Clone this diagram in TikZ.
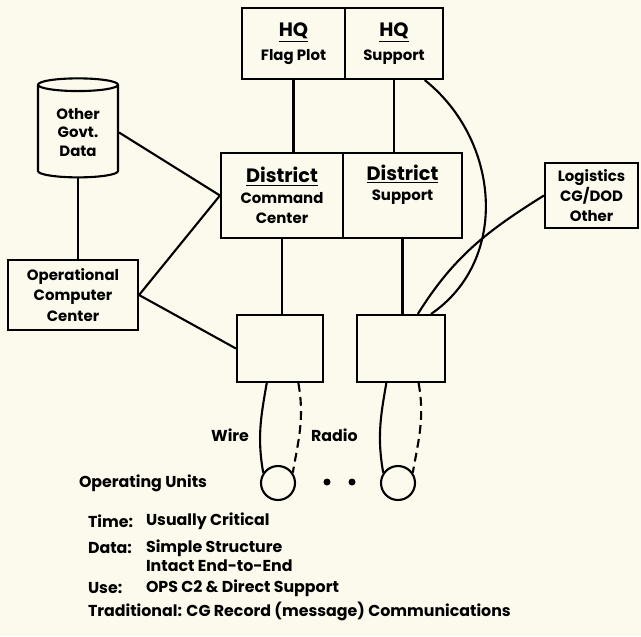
\documentclass[tikz,border=0pt]{standalone}
\usepackage{fontspec}
\setmainfont{Poppins}
\usetikzlibrary{shapes.geometric}

\definecolor{paper}{RGB}{252,250,237}
\newcommand{\pxu}{0.02cm}
\newcommand{\hd}[1]{{\fontsize{11}{12}\selectfont\underline{#1}}}

\begin{document}
\begin{tikzpicture}[x=0.02cm,y=-0.02cm,line width=1.2pt,
  box/.style={draw,line width=1.2pt,align=center,inner sep=1pt,
    font=\fontsize{8.5}{11.5}\selectfont\bfseries},
  txt/.style={inner sep=0pt,anchor=west,font=\fontsize{9}{11}\selectfont\bfseries},
  radiolink/.style={dash pattern=on 5pt off 3pt},
  dot/.style={circle,fill,inner sep=0pt,minimum size=7*\pxu}]

% Paper
\fill[paper] (0,0) rectangle (641,636);
\useasboundingbox (0,0) rectangle (641,636);

% HQ boxes
\node[box,minimum width=103*\pxu,minimum height=71*\pxu] (hqflag) at (293.5,43.5) {\hd{HQ}\\[2pt]Flag Plot};
\node[box,minimum width=98*\pxu,minimum height=71*\pxu] (hqsupp) at (394,43.5) {\hd{HQ}\\[2pt]Support};

% District boxes
\node[box,minimum width=122*\pxu,minimum height=85*\pxu] (dcc) at (282,195.5) {\hd{District}\\Command\\Center};
\node[box,minimum width=119*\pxu,minimum height=85*\pxu] (dsup) at (402.5,195.5) {\hd{District}\\Support\\\strut};

% Other data and computer center
\node[draw,cylinder,shape border rotate=90,aspect=0.27,line width=1.2pt,
  minimum width=80*\pxu,minimum height=99*\pxu,align=center,inner sep=1pt,
  font=\fontsize{8.5}{10.5}\selectfont\bfseries] (ogd) at (78,132.5) {Other\\Govt.\\Data};
\node[box,minimum width=130*\pxu,minimum height=70*\pxu] (occ) at (73,295) {Operational\\Computer\\Center};

% Logistics
\node[box,minimum width=93*\pxu,minimum height=65*\pxu] (logi) at (591.5,195.5) {Logistics\\CG/DOD\\Other};

% Unit boxes
\node[box,minimum width=86*\pxu,minimum height=67*\pxu] (ub1) at (280,348.5) {};
\node[box,minimum width=88*\pxu,minimum height=67*\pxu] (ub2) at (401,348.5) {};

% Operating units
\node[draw,circle,line width=1.2pt,inner sep=0pt,minimum size=34*\pxu] (op1) at (278,483) {};
\node[draw,circle,line width=1.2pt,inner sep=0pt,minimum size=34*\pxu] (op2) at (398,483) {};
\node[dot] (d1) at (327,482) {};
\node[dot] (d2) at (352,482) {};

% Vertical links
\draw (hqflag.south) -- (hqflag.south |- dcc.north);
\draw (hqsupp.south) -- (hqsupp.south |- dsup.north);
\draw (dcc.south) -- (dcc.south |- ub1.north);
\draw (dsup.south) -- (dsup.south |- ub2.north);
\draw (ogd.south) -- (ogd.south |- occ.north);

% Links to district
\draw (ogd.east) -- (dcc.west);
\draw (occ.east) -- (dcc.west);
\draw (occ.east) -- (ub1.west);

% Long links to right unit
\draw (hqsupp.-50) .. controls (500,140) and (510,260) .. (ub2.49);
\draw (logi.west) to[out=212,in=58] (ub2.64);

% Wire and radio
\draw (ub1.-111) to[out=-100,in=100] (op1.145);
\draw[radiolink] (ub1.-62) to[out=-80,in=80] (op1.35);
\draw (ub2.-113) to[out=-100,in=100] (op2.145);
\draw[radiolink] (ub2.-63) to[out=-80,in=80] (op2.35);
\node[txt,anchor=east] (wire) at (250,435) {Wire};
\node[txt] (radio) at (310,435) {Radio};
\node[txt] (units) at (78,483) {Operating Units};

% Notes
\node[txt] (tlbl) at (87,521) {Time:};
\node[txt] (tval) at (145,521) {Usually Critical};
\node[txt] (dlbl) at (87,548) {Data:};
\node[txt] (dval) at (145,548) {Simple Structure};
\node[txt] (dval2) at (145,566) {Intact End-to-End};
\node[txt] (ulbl) at (87,588) {Use:};
\node[txt] (uval) at (145,588) {OPS C2 \& Direct Support};
\node[txt] (trad) at (87,611) {Traditional: CG Record (message) Communications};

\end{tikzpicture}
\end{document}
